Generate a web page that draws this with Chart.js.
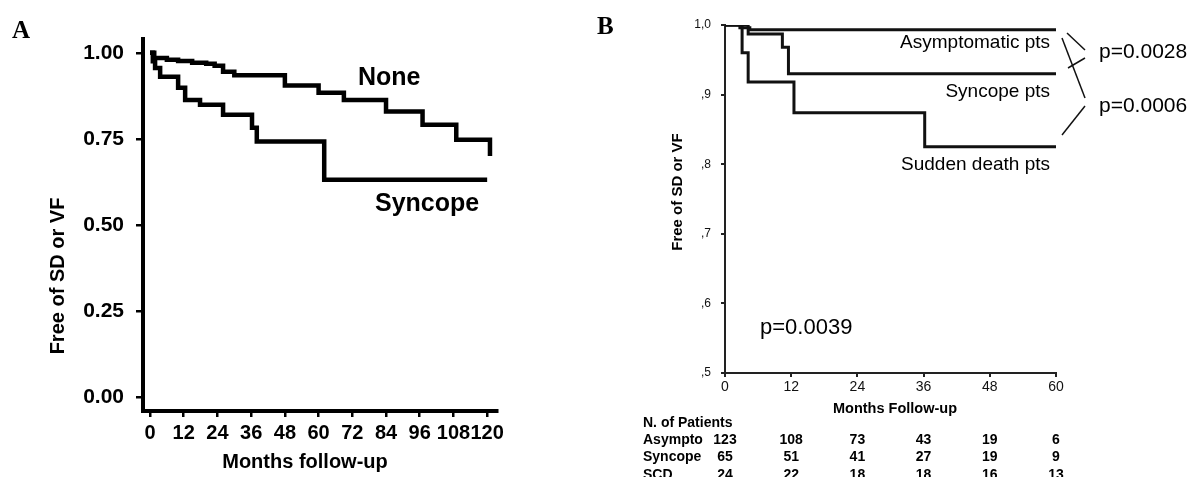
<!DOCTYPE html>
<html>
<head>
<meta charset="utf-8">
<script src="https://cdn.jsdelivr.net/npm/chart.js@4.4.0/dist/chart.umd.min.js"></script>
<style>
  body { margin: 0; background: #fff; }
  #wrap { position: relative; width: 1195px; height: 477px; overflow: hidden; }
  canvas { position: absolute; top: 0; }
</style>
</head>
<body>
<div id="wrap">
  <canvas id="chartA" width="520" height="477" style="left:0"></canvas>
  <canvas id="chartB" width="605" height="477" style="left:590px"></canvas>
</div>
<script>
// Panel A - Kaplan-Meier, months vs survival free of SD/VF
var monthTicksA = [0, 12, 24, 36, 48, 60, 72, 84, 96, 108, 120];
var survTicksA = [0, 0.25, 0.5, 0.75, 1];

var noneMonths = [0, 1.5, 6, 10, 15, 20, 23, 26, 30, 48, 60, 69, 84, 97, 109, 121];
var noneSurv   = [1, 0.985, 0.98, 0.976, 0.971, 0.968, 0.962, 0.945, 0.935, 0.905, 0.884, 0.863, 0.829, 0.791, 0.747, 0.70];

var syncMonthsA = [0, 1, 1.8, 3.6, 10, 12.5, 17.8, 26, 36.3, 38, 62, 120];
var syncSurvA   = [1, 0.975, 0.956, 0.93, 0.898, 0.863, 0.849, 0.82, 0.782, 0.742, 0.631, 0.631];

// Panel B
var monthTicksB = [0, 12, 24, 36, 48, 60];
var survTicksB = [0.5, 0.6, 0.7, 0.8, 0.9, 1.0];
var survLabelsB = [',5', ',6', ',7', ',8', ',9', '1,0'];

var asymMonths = [0, 2.7, 4.5, 60];
var asymSurv   = [1, 0.996, 0.993, 0.993];
var syncMonthsB = [0, 4.2, 10.4, 11.5, 60];
var syncSurvB   = [1, 0.987, 0.968, 0.93, 0.93];
var scdMonths = [0, 3.1, 4.2, 12.5, 36.2, 60];
var scdSurv   = [1, 0.96, 0.918, 0.874, 0.825, 0.825];

// numbers at risk
var riskMonths = [0, 12, 24, 36, 48, 60];
var riskRows = ['Asympto', 'Syncope', 'SCD'];
var asymN = [123, 108, 73, 43, 19, 6];
var syncN = [65, 51, 41, 27, 19, 9];
var scdN  = [24, 22, 18, 18, 16, 13];

function toPoints(xs, ys) {
  return xs.map(function (x, i) { return { x: x, y: ys[i] }; });
}

var SANS = "'Liberation Sans', Arial, sans-serif";
var SERIF = "'Liberation Serif', 'Times New Roman', serif";

// draws free text (panel letters, curve labels, axis titles, brackets)
var textPlugin = {
  id: 'texts',
  afterDraw: function (chart, args, opts) {
    var ctx = chart.ctx;
    ctx.save();
    ctx.fillStyle = '#000';
    ctx.textBaseline = 'middle';
    (opts.items || []).forEach(function (t) {
      ctx.save();
      ctx.font = t.font;
      ctx.textAlign = t.align || 'left';
      ctx.translate(t.x, t.y);
      if (t.rotate) ctx.rotate(t.rotate);
      ctx.fillText(t.text, 0, 0);
      ctx.restore();
    });
    ctx.strokeStyle = '#111';
    ctx.lineWidth = 1.5;
    (opts.lines || []).forEach(function (l) {
      ctx.beginPath();
      ctx.moveTo(l[0], l[1]);
      ctx.lineTo(l[2], l[3]);
      ctx.stroke();
    });
    ctx.restore();
  }
};

// number-at-risk table under panel B, columns follow the x scale
var riskPlugin = {
  id: 'riskTable',
  afterDraw: function (chart) {
    var ctx = chart.ctx;
    var xs = chart.scales.x;
    var rows = [asymN, syncN, scdN];
    var rowY = [440, 457.5, 475];
    ctx.save();
    ctx.fillStyle = '#000';
    ctx.textBaseline = 'middle';
    ctx.font = 'bold 14px ' + SANS;
    ctx.textAlign = 'left';
    ctx.fillText('N. of Patients', 53, 423);
    rows.forEach(function (row, r) {
      ctx.textAlign = 'left';
      ctx.fillText(riskRows[r], 53, rowY[r]);
      ctx.textAlign = 'center';
      row.forEach(function (n, i) {
        ctx.fillText(String(n), xs.getPixelForValue(riskMonths[i]), rowY[r]);
      });
    });
    ctx.restore();
  }
};

function fixedTicks(values) {
  return function (scale) {
    scale.ticks = values.map(function (v) { return { value: v }; });
  };
}

// ---------- Panel A ----------
new Chart(document.getElementById('chartA'), {
  type: 'line',
  data: {
    datasets: [
      { label: 'None', data: toPoints(noneMonths, noneSurv) },
      { label: 'Syncope', data: toPoints(syncMonthsA, syncSurvA) }
    ]
  },
  options: {
    responsive: false,
    animation: false,
    layout: { padding: { left: 0, top: 39, right: 23, bottom: 0 } },
    elements: {
      line: { borderColor: '#000', borderWidth: 4.5, stepped: true, fill: false, tension: 0 },
      point: { radius: 0 }
    },
    plugins: {
      legend: { display: false },
      tooltip: { enabled: false },
      texts: {
        items: [
          { text: 'A', x: 12, y: 32, font: 'bold 25px ' + SERIF },
          { text: 'None', x: 358, y: 78, font: 'bold 25px ' + SANS },
          { text: 'Syncope', x: 375, y: 204, font: 'bold 25px ' + SANS },
          { text: 'Free of SD or VF', x: 58, y: 276, rotate: -Math.PI / 2, align: 'center', font: 'bold 20px ' + SANS },
          { text: 'Months follow-up', x: 305, y: 462, align: 'center', font: 'bold 20px ' + SANS }
        ]
      }
    },
    scales: {
      x: {
        type: 'linear',
        min: -2.5,
        max: 123.5,
        afterBuildTicks: fixedTicks(monthTicksA),
        afterFit: function (s) { s.height = 66; },
        border: { display: true, color: '#000', width: 4 },
        grid: { drawOnChartArea: false, drawTicks: true, tickLength: 6, color: '#000', lineWidth: 2.5 },
        ticks: { color: '#000', padding: 4, maxRotation: 0, autoSkip: false, font: { family: SANS, size: 20, weight: 'bold' } }
      },
      y: {
        min: -0.041,
        max: 1.04,
        afterBuildTicks: fixedTicks(survTicksA),
        afterFit: function (s) { s.width = 143; },
        border: { display: true, color: '#000', width: 4 },
        grid: { drawOnChartArea: false, drawTicks: true, tickLength: 7, color: '#000', lineWidth: 2.5 },
        ticks: {
          color: '#000', padding: 12, font: { family: SANS, size: 21, weight: 'bold' },
          callback: function (v) { return Number(v).toFixed(2); }
        }
      }
    }
  },
  plugins: [textPlugin]
});

// ---------- Panel B ----------
new Chart(document.getElementById('chartB'), {
  type: 'line',
  data: {
    datasets: [
      { label: 'Asymptomatic pts', data: toPoints(asymMonths, asymSurv) },
      { label: 'Syncope pts', data: toPoints(syncMonthsB, syncSurvB) },
      { label: 'Sudden death pts', data: toPoints(scdMonths, scdSurv) }
    ]
  },
  options: {
    responsive: false,
    animation: false,
    layout: { padding: { left: 0, top: 25, right: 139, bottom: 74 } },
    elements: {
      line: { borderColor: '#111', borderWidth: 3, stepped: true, fill: false, tension: 0 },
      point: { radius: 0 }
    },
    plugins: {
      legend: { display: false },
      tooltip: { enabled: false },
      texts: {
        items: [
          { text: 'B', x: 7, y: 28, font: 'bold 25px ' + SERIF },
          { text: 'Asymptomatic pts', x: 460, y: 43, align: 'right', font: '19px ' + SANS },
          { text: 'Syncope pts', x: 460, y: 92, align: 'right', font: '19px ' + SANS },
          { text: 'Sudden death pts', x: 460, y: 165, align: 'right', font: '19px ' + SANS },
          { text: 'p=0.0028', x: 509, y: 52, font: '21px ' + SANS },
          { text: 'p=0.0006', x: 509, y: 106, font: '21px ' + SANS },
          { text: 'p=0.0039', x: 170, y: 328, font: '22px ' + SANS },
          { text: 'Free of SD or VF', x: 88, y: 192, rotate: -Math.PI / 2, align: 'center', font: 'bold 15px ' + SANS },
          { text: 'Months Follow-up', x: 305, y: 409, align: 'center', font: 'bold 14.5px ' + SANS }
        ],
        lines: [
          [477, 33, 495, 50],
          [495, 58, 478, 68],
          [472, 38, 495, 98],
          [495, 106, 472, 135]
        ]
      }
    },
    scales: {
      x: {
        type: 'linear',
        min: 0,
        max: 60,
        afterBuildTicks: fixedTicks(monthTicksB),
        afterFit: function (s) { s.height = 30; },
        border: { display: true, color: '#222', width: 2 },
        grid: { drawOnChartArea: false, drawTicks: true, tickLength: 4, color: '#222', lineWidth: 2 },
        ticks: { color: '#111', padding: 2, maxRotation: 0, autoSkip: false, font: { family: SANS, size: 14 } }
      },
      y: {
        min: 0.5,
        max: 1.0,
        afterBuildTicks: fixedTicks(survTicksB),
        afterFit: function (s) { s.width = 135; },
        border: { display: true, color: '#222', width: 2 },
        grid: { drawOnChartArea: false, drawTicks: true, tickLength: 4, color: '#222', lineWidth: 2 },
        ticks: {
          color: '#111', padding: 10, font: { family: SANS, size: 12 },
          callback: function (v) {
            var i = survTicksB.findIndex(function (t) { return Math.abs(t - v) < 1e-6; });
            return i >= 0 ? survLabelsB[i] : '';
          }
        }
      }
    }
  },
  plugins: [textPlugin, riskPlugin]
});
</script>
</body>
</html>
